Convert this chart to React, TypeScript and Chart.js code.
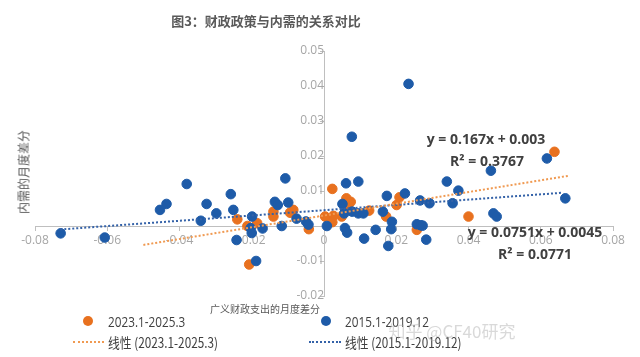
import React, { useEffect, useRef } from 'react';
import { Chart, registerables } from 'chart.js';

Chart.register(...registerables);

// ---- Data ----
const seriesNames = ['2023.1-2025.3', '2015.1-2019.12'];
const trendNames = ['线性 (2023.1-2025.3)', '线性 (2015.1-2019.12)'];

const blueX = [
  -0.0729, -0.0607, -0.0454, -0.0436, -0.038, -0.0325, -0.0298, -0.0341, -0.0258, -0.0251,
  -0.0242, -0.0199, -0.0203, -0.02, -0.017, -0.0188, -0.0107, -0.0136, -0.0128, -0.0099,
  -0.0076, -0.0117, -0.005, -0.0043, 0.0008, 0.0077, 0.0061, 0.0095, 0.0051, 0.0056,
  0.0078, 0.0095, 0.0109, 0.0058, 0.0064, 0.0111, 0.0143, 0.0163, 0.0174, 0.0188,
  0.0186, 0.0178, 0.034, 0.0372, 0.0224, 0.0266, 0.0292, 0.0356, 0.0257, 0.0268,
  0.0273, 0.0283, 0.0462, 0.0617, 0.0668, 0.0469, 0.0478, 0.0234,
];
const blueY = [
  -0.0021, -0.0033, 0.0046, 0.0063, 0.012, 0.0063, 0.0036, 0.0015, 0.0091, 0.0046,
  -0.004, 0.0027, -0.0006, -0.002, -0.0007, -0.01, 0.0136, 0.0069, 0.006, 0.0067,
  0.0021, 0.0, 0.0013, 0.0004, 0.0, 0.0255, 0.0122, 0.0127, 0.0063, 0.0036,
  0.0041, 0.0036, 0.0036, -0.0006, -0.0019, -0.0036, -0.0011, 0.0041, 0.0086, 0.0012,
  -0.0009, -0.0057, 0.0127, 0.0101, 0.0093, 0.0073, 0.0065, 0.0065, 0.0005, 0.0002,
  0.0001, -0.0039, 0.0158, 0.0193, 0.0079, 0.0036, 0.0027, 0.0406,
];

const orangeX = [
  -0.024, -0.0212, -0.0185, -0.0207, -0.014, -0.014, -0.0094, -0.0085, -0.0042, 0.0003,
  0.0023, 0.0062, 0.0074, 0.0049, 0.0125, 0.0026, 0.0023, 0.0172, 0.0201, 0.0209,
  0.0257, 0.04, 0.0638, 0.0066,
];
const orangeY = [
  0.0019, 0.0, 0.0008, -0.011, 0.0041, 0.0027, 0.0038, 0.0046, -0.0009, 0.0027,
  0.0106, 0.0079, 0.0069, 0.0027, 0.0044, 0.0029, 0.0011, 0.0027, 0.006, 0.0082,
  -0.0011, 0.0027, 0.0212, 0.0056,
];

// trend line end points
const orangeTrendX = [-0.05, 0.068];
const orangeTrendY = [-0.0054, 0.0144];
const blueTrendX = [-0.073, 0.066];
const blueTrendY = [-0.001, 0.0095];

const orangeEq = ['y = 0.167x + 0.003', 'R² = 0.3767'];
const blueEq = ['y = 0.0751x + 0.0045', 'R² = 0.0771'];

const xMin = -0.08;
const xMax = 0.08;
const xStep = 0.02;
const yMin = -0.02;
const yMax = 0.05;
const yStep = 0.01;

const titleText = '图3：财政政策与内需的关系对比';
const xTitle = '广义财政支出的月度差分';
const yTitle = '内需的月度差分';
const watermark = '知乎 @CF40研究';

const BLUE = '#1E5BA8';
const ORANGE = '#E8711F';
const BLUE_TREND = '#3462A8';
const ORANGE_TREND = '#F09A52';

const zip = (xs: number[], ys: number[]) => xs.map((x, i) => ({ x, y: ys[i] }));

const fmt = (v: number) => {
  if (Math.abs(v) < 1e-9) return '0';
  return v.toFixed(2);
};

const CJK = "'Noto Sans CJK SC', 'Noto Sans', sans-serif";
const LATIN = "'Open Sans', 'Noto Sans', sans-serif";

export default function App() {
  const ref = useRef<HTMLCanvasElement | null>(null);

  useEffect(() => {
    if (!ref.current) return;
    const chart = new Chart(ref.current, {
      type: 'scatter',
      data: {
        datasets: [
          {
            type: 'line',
            label: trendNames[0],
            data: zip(orangeTrendX, orangeTrendY),
            borderColor: ORANGE_TREND,
            borderWidth: 2,
            borderDash: [2, 2],
            pointRadius: 0,
            showLine: true,
            fill: false,
          } as any,
          {
            type: 'line',
            label: trendNames[1],
            data: zip(blueTrendX, blueTrendY),
            borderColor: BLUE_TREND,
            borderWidth: 2,
            borderDash: [2, 2],
            pointRadius: 0,
            showLine: true,
            fill: false,
          } as any,
          {
            label: seriesNames[1],
            data: zip(blueX, blueY),
            backgroundColor: BLUE,
            borderColor: BLUE,
            borderWidth: 1,
            pointRadius: 4.8,
          },
          {
            label: seriesNames[0],
            data: zip(orangeX, orangeY),
            backgroundColor: ORANGE,
            borderColor: ORANGE,
            borderWidth: 1,
            pointRadius: 4.8,
          },
        ],
      },
      options: {
        animation: false,
        responsive: false,
        maintainAspectRatio: false,
        layout: { padding: { left: 35, right: 27, top: 51, bottom: 61 } },
        plugins: {
          legend: { display: false },
          tooltip: { enabled: false },
          title: { display: false },
        },
        scales: {
          x: {
            type: 'linear',
            position: { y: 0 } as any,
            min: xMin,
            max: xMax,
            ticks: {
              stepSize: xStep,
              color: '#A6A6A6',
              font: { family: LATIN, size: 12 },
              padding: 3,
              maxRotation: 0,
              callback: (v: any) => fmt(Number(v)),
            },
            grid: {
              drawOnChartArea: false,
              drawTicks: true,
              tickLength: 4,
              color: '#BFBFBF',
            },
            border: { display: true, color: '#BFBFBF', width: 1 },
          },
          y: {
            type: 'linear',
            position: { x: 0 } as any,
            min: yMin,
            max: yMax,
            ticks: {
              stepSize: yStep,
              color: '#A6A6A6',
              font: { family: LATIN, size: 12 },
              padding: 3,
              callback: (v: any) => (Math.abs(Number(v)) < 1e-9 ? '' : fmt(Number(v))),
            },
            grid: {
              drawOnChartArea: false,
              drawTicks: true,
              tickLength: 4,
              color: '#BFBFBF',
            },
            border: { display: true, color: '#BFBFBF', width: 1 },
          },
        },
      },
    });
    return () => chart.destroy();
  }, []);

  const abs = (left: number, top: number): React.CSSProperties => ({
    position: 'absolute',
    left,
    top,
    transform: 'translate(-50%, -50%)',
    whiteSpace: 'nowrap',
  });

  const eqStyle: React.CSSProperties = {
    fontFamily: LATIN,
    fontWeight: 700,
    fontSize: 14,
    color: '#404040',
  };

  const legendText: React.CSSProperties = {
    position: 'absolute',
    fontFamily: LATIN,
    fontSize: 14,
    color: '#404040',
    whiteSpace: 'nowrap',
    transform: 'translateY(-50%) scaleX(0.84)',
    transformOrigin: 'left center',
  };

  const dot = (left: number, top: number, color: string): React.CSSProperties => ({
    position: 'absolute',
    left: left - 5,
    top: top - 5,
    width: 10,
    height: 10,
    borderRadius: '50%',
    background: color,
  });

  const dash = (left: number, top: number, width: number, color: string): React.CSSProperties => ({
    position: 'absolute',
    left,
    top: top - 1,
    width,
    height: 0,
    borderTop: `2px dotted ${color}`,
  });

  return (
    <div
      style={{
        position: 'fixed',
        left: 0,
        top: 0,
        width: 640,
        height: 357,
        background: '#ffffff',
        overflow: 'hidden',
      }}
    >
      <canvas ref={ref} width={640} height={357} style={{ position: 'absolute', left: 0, top: 0 }} />
      <div
        style={{
          ...abs(266, 20),
          fontFamily: CJK,
          fontWeight: 700,
          fontSize: 13,
          color: '#595959',
        }}
      >
        {titleText}
      </div>
      <div style={{ ...abs(265, 308), fontFamily: CJK, fontSize: 10, color: '#595959' }}>{xTitle}</div>
      <div
        style={{
          ...abs(23, 172),
          transform: 'translate(-50%, -50%) rotate(-90deg)',
          fontFamily: CJK,
          fontSize: 12,
          color: '#595959',
        }}
      >
        {yTitle}
      </div>
      <div style={{ ...abs(486, 138), ...eqStyle }}>{orangeEq[0]}</div>
      <div style={{ ...abs(487, 160), ...eqStyle }}>{orangeEq[1]}</div>
      <div style={{ ...abs(535, 231), ...eqStyle }}>{blueEq[0]}</div>
      <div style={{ ...abs(535, 253), ...eqStyle }}>{blueEq[1]}</div>

      {/* legend */}
      <div style={dot(88, 321, ORANGE)} />
      <div style={{ ...legendText, left: 108, top: 321 }}>{seriesNames[0]}</div>
      <div style={dot(326, 321, BLUE)} />
      <div style={{ ...legendText, left: 345, top: 321 }}>{seriesNames[1]}</div>
      <div style={dash(73, 342, 31, ORANGE_TREND)} />
      <div style={{ ...legendText, left: 108, top: 342, fontFamily: CJK }}>{trendNames[0]}</div>
      <div style={dash(309, 342, 32, BLUE_TREND)} />
      <div style={{ ...legendText, left: 345, top: 342, fontFamily: CJK }}>{trendNames[1]}</div>

      <div
        style={{
          ...abs(452, 330),
          fontFamily: CJK,
          fontSize: 17,
          color: 'rgba(170,170,170,0.45)',
        }}
      >
        {watermark}
      </div>
    </div>
  );
}
